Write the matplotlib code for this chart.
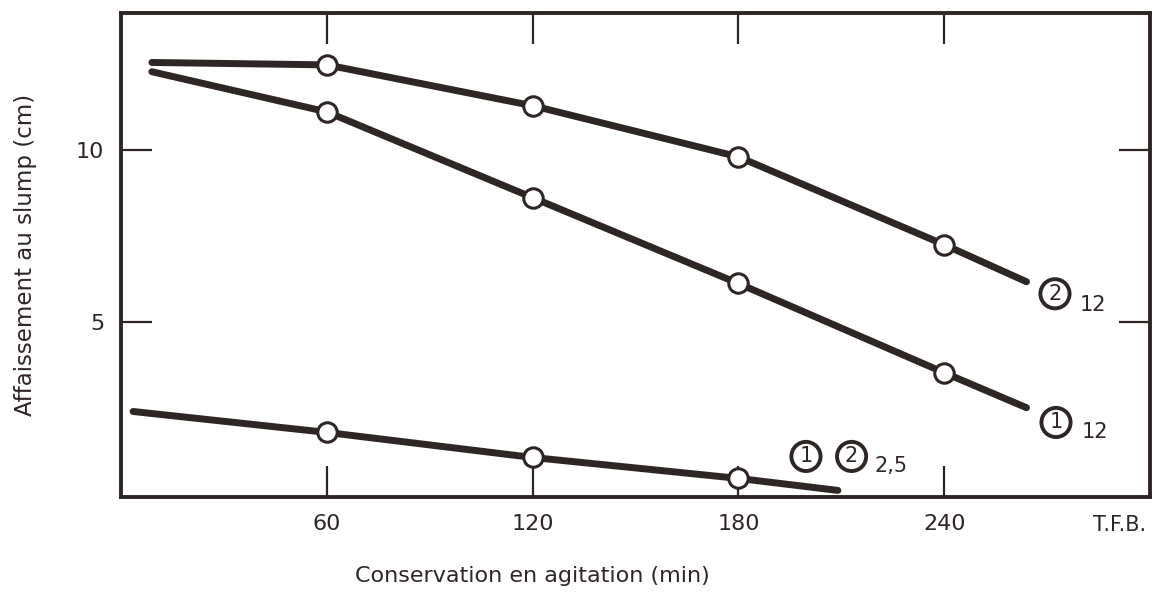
import matplotlib

matplotlib.use("Agg")
import matplotlib.pyplot as plt

plt.rcParams.update({"font.family": ["DejaVu Sans"]})

INK = "#2e2624"

# time (min) and slump (cm)
T_2_12 = [9, 60, 120, 180, 240, 264]
S_2_12 = [12.56, 12.49, 11.30, 9.81, 7.25, 6.17]
T_1_12 = [9, 60, 120, 180, 240, 264]
S_1_12 = [12.29, 11.12, 8.62, 6.12, 3.52, 2.50]
T_LOW = [3.5, 60, 120, 180, 209]
S_LOW = [2.39, 1.78, 1.05, 0.44, 0.09]

X_TICKS = [60, 120, 180, 240]
Y_TICKS = [5, 10]

fig = plt.figure(figsize=(11.56, 5.93), dpi=100)
ax = fig.add_axes([0.1047, 0.162, 0.8901, 0.816])

for t, s in [(T_2_12, S_2_12), (T_1_12, S_1_12), (T_LOW, S_LOW)]:
    ax.plot(t, s, color=INK, lw=5, solid_capstyle="round", zorder=2)
    ax.plot(t[1:-1], s[1:-1], "o", ms=14, mfc="white", mec=INK, mew=2.2, zorder=3)

ax.set_xlim(0, 300)
ax.set_ylim(-0.1, 14)
ax.set_xticks(X_TICKS)
ax.set_yticks(Y_TICKS)
ax.tick_params(direction="in", length=22, width=1.6, color=INK, labelsize=16,
               labelcolor=INK, top=True, right=True, pad=12)
for sp in ax.spines.values():
    sp.set_linewidth(2.8)
    sp.set_color(INK)

ax.text(291, -0.62, "T.F.B.", ha="center", va="top", fontsize=15, color=INK)
ax.set_xlabel("Conservation en agitation (min)", fontsize=16, color=INK)
ax.xaxis.set_label_coords(0.40, -0.143)
ax.set_ylabel("Affaissement au slump (cm)", fontsize=16.5, labelpad=28, color=INK)


def circled(x, y, digit):
    ax.text(x, y, digit, fontsize=15, ha="center", va="center", color=INK,
            bbox=dict(boxstyle="circle,pad=0.22", fc="white", ec=INK, lw=2.8))


circled(272.3, 5.82, "2")
ax.text(283.5, 5.5, "12", fontsize=15, ha="center", va="center", color=INK)
circled(272.6, 2.07, "1")
ax.text(284, 1.78, "12", fontsize=15, ha="center", va="center", color=INK)
circled(199.7, 1.08, "1")
circled(213.0, 1.08, "2")
ax.text(224.5, 0.79, "2,5", fontsize=15, ha="center", va="center", color=INK)

fig.savefig("out.png", dpi=100)
